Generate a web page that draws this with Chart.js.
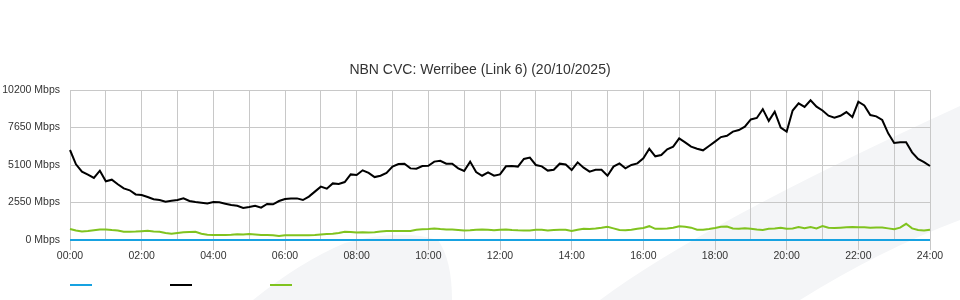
<!DOCTYPE html>
<html>
<head>
<meta charset="utf-8">
<script src="https://cdn.jsdelivr.net/npm/chart.js@4/dist/chart.umd.min.js"></script>
<style>
  html, body { margin: 0; padding: 0; background: #fff; }
  #wrap { width: 960px; height: 300px; position: relative; }
</style>
</head>
<body>
<div id="wrap"><canvas id="c" width="960" height="300"></canvas></div>
<script>
const titleText = 'NBN CVC: Werribee (Link 6) (20/10/2025)';

const times = [
"00:00","00:10","00:20","00:30","00:40","00:50","01:00","01:10","01:20","01:30","01:40","01:50",
"02:00","02:10","02:20","02:30","02:40","02:50","03:00","03:10","03:20","03:30","03:40","03:50",
"04:00","04:10","04:20","04:30","04:40","04:50","05:00","05:10","05:20","05:30","05:40","05:50",
"06:00","06:10","06:20","06:30","06:40","06:50","07:00","07:10","07:20","07:30","07:40","07:50",
"08:00","08:10","08:20","08:30","08:40","08:50","09:00","09:10","09:20","09:30","09:40","09:50",
"10:00","10:10","10:20","10:30","10:40","10:50","11:00","11:10","11:20","11:30","11:40","11:50",
"12:00","12:10","12:20","12:30","12:40","12:50","13:00","13:10","13:20","13:30","13:40","13:50",
"14:00","14:10","14:20","14:30","14:40","14:50","15:00","15:10","15:20","15:30","15:40","15:50",
"16:00","16:10","16:20","16:30","16:40","16:50","17:00","17:10","17:20","17:30","17:40","17:50",
"18:00","18:10","18:20","18:30","18:40","18:50","19:00","19:10","19:20","19:30","19:40","19:50",
"20:00","20:10","20:20","20:30","20:40","20:50","21:00","21:10","21:20","21:30","21:40","21:50",
"22:00","22:10","22:20","22:30","22:40","22:50","23:00","23:10","23:20","23:30","23:40","23:50",
"24:00"];

// Mbps
const blueSeries = [
0,0,0,0,0,0,0,0,0,0,0,0, 0,0,0,0,0,0,0,0,0,0,0,0,
0,0,0,0,0,0,0,0,0,0,0,0, 0,0,0,0,0,0,0,0,0,0,0,0,
0,0,0,0,0,0,0,0,0,0,0,0, 0,0,0,0,0,0,0,0,0,0,0,0,
0,0,0,0,0,0,0,0,0,0,0,0, 0,0,0,0,0,0,0,0,0,0,0,0,
0,0,0,0,0,0,0,0,0,0,0,0, 0,0,0,0,0,0,0,0,0,0,0,0,
0,0,0,0,0,0,0,0,0,0,0,0, 0,0,0,0,0,0,0,0,0,0,0,0,
0];

const blackSeries = [
6120,5150,4650,4440,4220,4710,3990,4100,3790,3510,3380,3100,
3060,2920,2770,2720,2610,2670,2720,2830,2650,2580,2540,2490,
2580,2560,2470,2380,2330,2180,2240,2330,2200,2450,2430,2650,
2790,2830,2830,2720,2950,3290,3630,3490,3850,3810,3940,4460,
4420,4740,4560,4280,4370,4560,4990,5170,5190,4870,4850,5030,
5050,5330,5390,5190,5190,4870,4690,5330,4620,4370,4600,4370,
4460,5010,5030,4990,5510,5600,5100,5010,4720,4780,5190,5140,
4760,5280,4920,4650,4780,4780,4370,4990,5210,4870,5100,5210,
5550,6200,5690,5780,6170,6350,6910,6640,6350,6210,6100,6390,
6690,7000,7090,7370,7480,7710,8200,8300,8900,8100,8730,7650,
7370,8800,9290,9050,9500,9070,8810,8450,8320,8450,8700,8360,
9400,9150,8500,8410,8160,7250,6600,6640,6640,5960,5510,5300,
5030];

const greenSeries = [
750,650,580,620,670,720,720,680,650,560,560,570,
600,630,580,560,480,420,480,520,540,560,430,360,
340,340,340,350,390,370,400,380,340,340,330,280,
320,330,330,330,330,340,380,400,420,480,560,550,
510,520,510,530,570,610,610,610,610,620,700,730,
740,780,740,720,720,680,640,660,700,720,690,660,
700,720,680,660,650,650,700,700,650,680,690,690,
610,700,760,740,780,830,900,790,680,660,700,770,
820,940,760,760,790,830,930,900,840,700,690,750,
820,900,920,780,760,800,770,720,680,760,790,830,
760,780,880,800,880,790,950,830,820,840,860,880,
860,860,840,850,850,790,730,840,1100,790,680,650,
700];

const yTicks = [0, 2550, 5100, 7650, 10200];

const gridColor = '#c8c8c8';
const fontFamily = '"Liberation Sans", Arial, Helvetica, sans-serif';

function isHour(i) { return times[i] && times[i].endsWith(':00'); }
function isEvenHour(i) { return isHour(i) && parseInt(times[i], 10) % 2 === 0; }

const backgroundPlugin = {
  id: 'bgShapes',
  beforeDraw(chart) {
    const ctx = chart.ctx;
    ctx.save();
    ctx.fillStyle = '#f4f5f7';
    // left rounded shape
    ctx.beginPath();
    ctx.moveTo(253, 300);
    ctx.quadraticCurveTo(300, 262, 345, 243);
    ctx.quadraticCurveTo(400, 228, 438, 240);
    ctx.quadraticCurveTo(452, 260, 452, 300);
    ctx.closePath();
    ctx.fill();
    // right diagonal band
    ctx.beginPath();
    ctx.moveTo(600, 300);
    ctx.quadraticCurveTo(700, 225, 960, 106);
    ctx.lineTo(960, 220);
    ctx.quadraticCurveTo(880, 250, 800, 300);
    ctx.closePath();
    ctx.fill();
    ctx.restore();
  }
};

const legendPlugin = {
  id: 'swatchLegend',
  afterDraw(chart) {
    const ctx = chart.ctx;
    const a = chart.chartArea;
    ctx.save();
    chart.data.datasets.forEach((ds, k) => {
      const x0 = a.left + k * 100;
      const y0 = a.bottom + 45;
      ctx.strokeStyle = ds.borderColor;
      ctx.lineWidth = 2;
      ctx.beginPath();
      ctx.moveTo(x0, y0);
      ctx.lineTo(x0 + 22, y0);
      ctx.stroke();
    });
    ctx.restore();
  }
};

new Chart(document.getElementById('c'), {
  type: 'line',
  data: {
    labels: times,
    datasets: [
      { label: 'Blue', data: blueSeries, borderColor: '#17a2e1', borderWidth: 2, pointRadius: 0, tension: 0, clip: false },
      { label: 'Black', data: blackSeries, borderColor: '#000000', borderWidth: 2, pointRadius: 0, tension: 0, clip: false },
      { label: 'Green', data: greenSeries, borderColor: '#80c31f', borderWidth: 2, pointRadius: 0, tension: 0, clip: false }
    ]
  },
  plugins: [backgroundPlugin, legendPlugin],
  options: {
    responsive: false,
    animation: false,
    events: [],
    layout: { padding: { left: 0, right: 0, top: 0, bottom: 0 } },
    plugins: {
      legend: { display: false },
      tooltip: { enabled: false },
      title: {
        display: true,
        text: titleText,
        color: '#333',
        font: { family: fontFamily, size: 14, weight: 'normal' },
        padding: { top: 62, bottom: 11.2 }
      }
    },
    scales: {
      x: {
        type: 'category',
        offset: false,
        afterFit(scale) { scale.height = 60; },
        grid: {
          color: (c) => isHour(c.index) ? gridColor : 'rgba(0,0,0,0)',
          tickColor: (c) => isEvenHour(c.index) ? gridColor : 'rgba(0,0,0,0)',
          tickLength: 10,
          drawTicks: true
        },
        border: { display: true, color: gridColor },
        ticks: {
          autoSkip: false,
          maxRotation: 0,
          minRotation: 0,
          padding: 0,
          color: '#333',
          font: { family: fontFamily, size: 10.5 },
          callback: (v, i) => isEvenHour(i) ? times[i] : ''
        }
      },
      y: {
        min: 0,
        max: 10200,
        afterFit(scale) { scale.width = 70; },
        afterBuildTicks(scale) { scale.ticks = yTicks.map(v => ({ value: v })); },
        grid: { color: gridColor, drawTicks: false },
        border: { display: true, color: gridColor },
        ticks: {
          padding: 10,
          color: '#333',
          font: { family: fontFamily, size: 10.5 },
          callback: (v) => v + ' Mbps'
        }
      },
      ySpacer: {
        position: 'right',
        min: 0,
        max: 10200,
        afterFit(scale) { scale.width = 30; },
        grid: { display: false, drawOnChartArea: false },
        border: { display: false },
        ticks: { display: false }
      }
    }
  }
});
</script>
</body>
</html>
